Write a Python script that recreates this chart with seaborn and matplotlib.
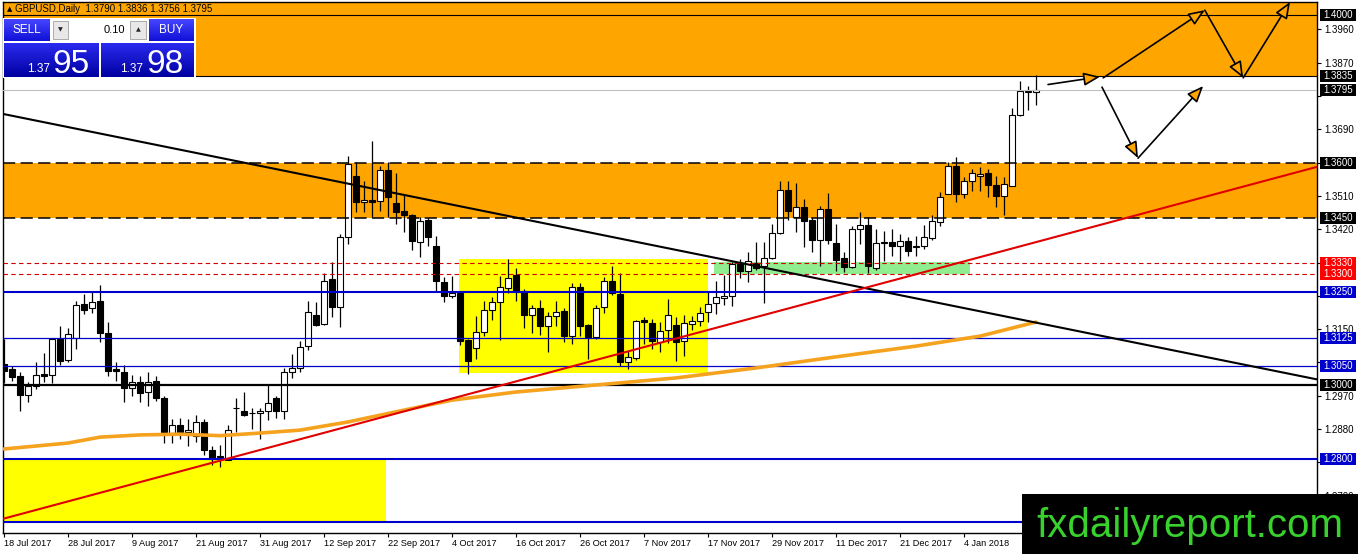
import numpy as np
import pandas as pd
import matplotlib
matplotlib.use("Agg")
import matplotlib.pyplot as plt
import matplotlib.transforms as mtrans
from matplotlib.patches import Rectangle, FancyArrowPatch
from matplotlib.colors import LinearSegmentedColormap
import seaborn as sns

# ---------------- data ----------------
header_symbol = "GBPUSD,Daily"
header_ohlc = "1.3790 1.3836 1.3756 1.3795"
sell_big, sell_small = "95", "1.37"
buy_big, buy_small = "98", "1.37"
lot_size = "0.10"

opens = [1.3057, 1.3041, 1.3022, 1.2971, 1.2995, 1.3030, 1.3025, 1.3122, 1.3066, 1.3125,
         1.3217, 1.3206, 1.3225, 1.3139, 1.3041, 1.3033, 1.2990, 1.3006, 1.2979, 1.3011,
         1.2963, 1.2868, 1.2890, 1.2871, 1.2860, 1.2898, 1.2822, 1.2808, 1.2797, 1.2936,
         1.2930, 1.2922, 1.2922, 1.2930, 1.2963, 1.2930, 1.3033, 1.3044, 1.3103, 1.3187,
         1.3163, 1.3285, 1.3209, 1.3399, 1.3564, 1.3494, 1.3499, 1.3496, 1.3580, 1.3491,
         1.3469, 1.3458, 1.3385, 1.3445, 1.3374, 1.3277, 1.3239, 1.3247, 1.3120, 1.3098,
         1.3141, 1.3201, 1.3223, 1.3261, 1.3296, 1.3252, 1.3187, 1.3206, 1.3158, 1.3185,
         1.3198, 1.3131, 1.3263, 1.3160, 1.3128, 1.3209, 1.3280, 1.3244, 1.3060, 1.3071,
         1.3174, 1.3166, 1.3114, 1.3147, 1.3160, 1.3117, 1.3163, 1.3171, 1.3196, 1.3220,
         1.3234, 1.3239, 1.3326, 1.3307, 1.3328, 1.3320, 1.3342, 1.3410, 1.3526, 1.3453,
         1.3480, 1.3445, 1.3391, 1.3475, 1.3382, 1.3342, 1.3317, 1.3420, 1.3431, 1.3315,
         1.3384, 1.3385, 1.3374, 1.3388, 1.3373, 1.3374, 1.3396, 1.3439, 1.3515, 1.3591,
         1.3515, 1.3550, 1.3564, 1.3572, 1.3540, 1.3510, 1.3537, 1.3729, 1.3792, 1.3790]
highs = [1.3122, 1.3049, 1.3033, 1.3006, 1.3060, 1.3085, 1.3125, 1.3158, 1.3152, 1.3225,
         1.3244, 1.3250, 1.3269, 1.3168, 1.3060, 1.3052, 1.3025, 1.3022, 1.3033, 1.3022,
         1.2968, 1.2906, 1.2911, 1.2906, 1.2917, 1.2906, 1.2835, 1.2838, 1.2890, 1.2963,
         1.2979, 1.2938, 1.2938, 1.3001, 1.2968, 1.3044, 1.3082, 1.3117, 1.3225, 1.3223,
         1.3301, 1.3331, 1.3407, 1.3618, 1.3602, 1.3550, 1.3659, 1.3591, 1.3602, 1.3572,
         1.3515, 1.3461, 1.3453, 1.3450, 1.3401, 1.3290, 1.3293, 1.3250, 1.3122, 1.3185,
         1.3225, 1.3236, 1.3293, 1.3339, 1.3315, 1.3258, 1.3215, 1.3228, 1.3196, 1.3225,
         1.3206, 1.3274, 1.3274, 1.3163, 1.3215, 1.3290, 1.3320, 1.3301, 1.3090, 1.3174,
         1.3182, 1.3177, 1.3168, 1.3231, 1.3182, 1.3187, 1.3185, 1.3209, 1.3252, 1.3280,
         1.3296, 1.3331, 1.3339, 1.3358, 1.3385, 1.3385, 1.3434, 1.3550, 1.3550, 1.3545,
         1.3502, 1.3453, 1.3483, 1.3518, 1.3434, 1.3358, 1.3429, 1.3466, 1.3453, 1.3420,
         1.3415, 1.3420, 1.3407, 1.3399, 1.3401, 1.3431, 1.3458, 1.3521, 1.3602, 1.3615,
         1.3561, 1.3583, 1.3588, 1.3583, 1.3564, 1.3561, 1.3748, 1.3821, 1.3808, 1.3836]
lows = [1.3003, 1.3009, 1.2930, 1.2952, 1.2987, 1.3006, 1.3003, 1.3052, 1.3060, 1.3095,
        1.3190, 1.3193, 1.3114, 1.3022, 1.3011, 1.2952, 1.2968, 1.2952, 1.2941, 1.2957,
        1.2843, 1.2843, 1.2854, 1.2835, 1.2846, 1.2811, 1.2784, 1.2776, 1.2795, 1.2871,
        1.2914, 1.2879, 1.2854, 1.2903, 1.2911, 1.2906, 1.3017, 1.3033, 1.3093, 1.3158,
        1.3162, 1.3182, 1.3155, 1.3380, 1.3466, 1.3466, 1.3453, 1.3469, 1.3453, 1.3434,
        1.3412, 1.3364, 1.3345, 1.3374, 1.3252, 1.3223, 1.3234, 1.3106, 1.3028, 1.3068,
        1.3131, 1.3174, 1.3120, 1.3247, 1.3225, 1.3152, 1.3139, 1.3133, 1.3087, 1.3158,
        1.3114, 1.3109, 1.3131, 1.3068, 1.3122, 1.3193, 1.3242, 1.3049, 1.3041, 1.3066,
        1.3109, 1.3095, 1.3087, 1.3112, 1.3063, 1.3076, 1.3147, 1.3158, 1.3168, 1.3190,
        1.3215, 1.3212, 1.3288, 1.3277, 1.3309, 1.3220, 1.3339, 1.3407, 1.3445, 1.3412,
        1.3372, 1.3358, 1.3320, 1.3380, 1.3307, 1.3304, 1.3315, 1.3380, 1.3301, 1.3309,
        1.3334, 1.3347, 1.3334, 1.3347, 1.3347, 1.3366, 1.3391, 1.3429, 1.3515, 1.3494,
        1.3504, 1.3523, 1.3523, 1.3507, 1.3480, 1.3458, 1.3536, 1.3726, 1.3743, 1.3756]
closes = [1.3038, 1.3020, 1.2971, 1.2995, 1.3025, 1.3022, 1.3122, 1.3063, 1.3136, 1.3215,
          1.3201, 1.3223, 1.3139, 1.3038, 1.3036, 1.2992, 1.3006, 1.2976, 1.3006, 1.2965,
          1.2871, 1.2892, 1.2871, 1.2876, 1.2898, 1.2822, 1.2800, 1.2803, 1.2876, 1.2938,
          1.2917, 1.2923, 1.2930, 1.2949, 1.2930, 1.3033, 1.3044, 1.3101, 1.3196, 1.3160,
          1.3280, 1.3209, 1.3399, 1.3596, 1.3494, 1.3499, 1.3494, 1.3580, 1.3507, 1.3466,
          1.3458, 1.3388, 1.3442, 1.3399, 1.3280, 1.3239, 1.3247, 1.3117, 1.3063, 1.3141,
          1.3201, 1.3223, 1.3263, 1.3288, 1.3252, 1.3187, 1.3206, 1.3158, 1.3185, 1.3196,
          1.3131, 1.3263, 1.3158, 1.3128, 1.3206, 1.3280, 1.3247, 1.3060, 1.3074, 1.3171,
          1.3168, 1.3117, 1.3144, 1.3187, 1.3114, 1.3166, 1.3171, 1.3193, 1.3217, 1.3236,
          1.3239, 1.3326, 1.3307, 1.3334, 1.3315, 1.3342, 1.3410, 1.3526, 1.3469, 1.3480,
          1.3442, 1.3391, 1.3475, 1.3391, 1.3336, 1.3317, 1.3420, 1.3431, 1.3320, 1.3382,
          1.3386, 1.3374, 1.3388, 1.3361, 1.3375, 1.3399, 1.3442, 1.3507, 1.3591, 1.3515,
          1.3550, 1.3572, 1.3569, 1.3540, 1.3510, 1.3542, 1.3729, 1.3794, 1.3794, 1.3795]

date_tick_bars = [0, 8, 16, 24, 32, 40, 48, 56, 64, 72, 80, 88, 96, 104, 112, 120]
date_labels = ["18 Jul 2017", "28 Jul 2017", "9 Aug 2017", "21 Aug 2017", "31 Aug 2017",
               "12 Sep 2017", "22 Sep 2017", "4 Oct 2017", "16 Oct 2017", "26 Oct 2017",
               "7 Nov 2017", "17 Nov 2017", "29 Nov 2017", "11 Dec 2017", "21 Dec 2017",
               "4 Jan 2018"]

price_ticks = [1.3960, 1.3870, 1.3780, 1.3690, 1.3600, 1.3510, 1.3420, 1.3330, 1.3240,
               1.3150, 1.3060, 1.2970, 1.2880, 1.2790, 1.2700]
# tick labels that sit under a level box in the reference are not printed
covered_ticks = [1.3780, 1.3600, 1.3330, 1.3240, 1.3060, 1.2790]

# moving average (read at selected bars)
ma_bars = [0, 8, 12, 17, 22, 27, 32, 37, 43, 50, 56, 64, 74, 84, 94, 104, 114, 122, 129]
ma_values = [1.2826, 1.2842, 1.2858, 1.2864, 1.2866, 1.2862, 1.2869, 1.2877, 1.2899, 1.2931,
             1.2958, 1.2980, 1.2999, 1.3018, 1.3045, 1.3075, 1.3104, 1.3131, 1.3169]

# trend lines: two anchor points (bar, price) each
black_trend = [(0, 1.3731), (163, 1.3019)]
red_trend = [(0, 1.2638), (163, 1.3582)]

# zones
top_zone_low = 1.3835
orange_zone = (1.3450, 1.3600)
yellow_box_1 = {"bars": (-0.5, 47.75), "prices": (1.2628, 1.2800)}
yellow_box_2 = {"bars": (56.9, 88.0), "prices": (1.3032, 1.3340)}
green_box = {"bars": (88.75, 120.8), "prices": (1.3300, 1.3330)}

# horizontal levels
level_prices = [1.4000, 1.3835, 1.3795, 1.3600, 1.3450, 1.3330, 1.3300,
                1.3250, 1.3125, 1.3050, 1.3000, 1.2800, 1.2628]
level_kinds = ["black", "black", "bid", "dash", "dash", "red", "red",
               "blue_thick", "blue", "blue", "black_thick", "blue_thick", "blue_thick"]
level_has_box = [True, True, True, True, True, True, True,
                 True, True, True, True, True, False]

# forecast arrows: (bar, price) start -> end
arrow_paths = [((130.5, 1.3811), (137.0, 1.3832)),
               ((137.4, 1.3829), (150.1, 1.4012)),
               ((150.1, 1.4012), (154.9, 1.3829)),
               ((154.9, 1.3829), (160.75, 1.4034)),
               ((137.25, 1.3804), (141.75, 1.3612)),
               ((141.75, 1.3612), (149.9, 1.3807))]

watermark = "fxdailyreport.com"

# ---------------- styles ----------------
ORANGE = "#FFA500"
YELLOW = "#FFFF00"
LGREEN = "#90EE90"
BLUE = "#0000CD"
line_styles = {
    "black": dict(color="black", lw=0.8, ls="-"),
    "black_thick": dict(color="black", lw=1.6, ls="-"),
    "bid": dict(color="#C0C0C0", lw=0.8, ls="-"),
    "dash": dict(color="black", lw=1.1, ls=(0, (8, 3.5))),
    "red": dict(color="#D00000", lw=0.8, ls=(0, (4, 3))),
    "blue": dict(color=BLUE, lw=0.9, ls="-"),
    "blue_thick": dict(color=BLUE, lw=1.5, ls="-"),
}
box_colors = {"black": "black", "black_thick": "black", "bid": "black", "dash": "black",
              "red": "#FF0000", "blue": BLUE, "blue_thick": BLUE}

sns.set_theme(style="white")
plt.rcParams["font.family"] = ["Liberation Sans", "DejaVu Sans"]

W, H = 1358, 554
L, R, T, B = 2.5, 1317, 1.5, 533
px_per_price = 3700.0
y_top = 1.3 + (384.6 - T) / px_per_price
y_bot = 1.3 + (384.6 - B) / px_per_price

fig = plt.figure(figsize=(W / 100, H / 100), dpi=100)
ax = fig.add_axes([L / W, 1 - B / H, (R - L) / W, (B - T) / H])
ax.set_facecolor("white")

# zones
ax.axhspan(top_zone_low, 1.5, color=ORANGE, lw=0, zorder=1)
ax.axhspan(*orange_zone, color=ORANGE, lw=0, zorder=1)
for box, col in [(yellow_box_1, YELLOW), (yellow_box_2, YELLOW), (green_box, LGREEN)]:
    b0, b1 = box["bars"]
    p0, p1 = box["prices"]
    ax.add_patch(Rectangle((b0, p0), b1 - b0, p1 - p0, facecolor=col, lw=0, zorder=1.5))

# candles
df = pd.DataFrame({"bar": np.arange(len(opens)), "o": opens, "h": highs, "l": lows, "c": closes})
df["body_lo"] = df[["o", "c"]].min(axis=1)
df["body_h"] = (df["o"] - df["c"]).abs().clip(lower=0.00004)
up = df["c"] >= df["o"]
ax.vlines(df["bar"], df["l"], df["h"], color="black", lw=0.9, zorder=3)
ax.bar(df.loc[up, "bar"], df.loc[up, "body_h"], bottom=df.loc[up, "body_lo"], width=0.64,
       facecolor="white", edgecolor="black", lw=0.8, zorder=4)
ax.bar(df.loc[~up, "bar"], df.loc[~up, "body_h"], bottom=df.loc[~up, "body_lo"], width=0.64,
       facecolor="black", edgecolor="black", lw=0.8, zorder=4)

# horizontal levels
for p, k in zip(level_prices, level_kinds):
    st = line_styles[k]
    ax.axhline(p, color=st["color"], lw=st["lw"], ls=st["ls"], zorder=5)

# moving average and trend lines
sns.lineplot(x=ma_bars, y=ma_values, ax=ax, color="#F5A21E", lw=2.6, zorder=6, legend=False)
ax.axline(black_trend[0], black_trend[1], color="black", lw=1.5, zorder=6)
ax.axline(red_trend[0], red_trend[1], color="#E00000", lw=1.5, zorder=6)

# arrows
for a, b in arrow_paths:
    ax.add_patch(FancyArrowPatch(a, b, arrowstyle="-|>,head_length=1.1,head_width=0.45",
                                 mutation_scale=9, facecolor=ORANGE, edgecolor="black",
                                 lw=1.2, zorder=7, shrinkA=0, shrinkB=0))

ax.set_xlim((L - 4) / 8, (R - 4) / 8)
ax.set_ylim(y_bot, y_top)

# axes styling
for s in ax.spines.values():
    s.set_color("black")
    s.set_linewidth(1.0)
ax.yaxis.tick_right()
ax.set_yticks(price_ticks)
ax.set_yticklabels(["" if v in covered_ticks else f"{v:.4f}" for v in price_ticks])
ax.tick_params(axis="y", which="major", right=True, left=False, length=3, width=0.8,
               direction="out", pad=2, labelsize=7, colors="black")
ax.set_xticks(date_tick_bars)
ax.set_xticklabels(date_labels)
ax.tick_params(axis="x", which="major", bottom=True, length=3, width=0.8,
               direction="out", pad=1.5, labelsize=6.6, colors="black")
for t in ax.get_xticklabels():
    t.set_ha("left")
ax.grid(False)

# right-side price boxes
blend = mtrans.blended_transform_factory(ax.transAxes, ax.transData)
bx0 = (1320 - L) / (R - L)
bw = 36 / (R - L)
bh = 12 / px_per_price
for p, k, has in zip(level_prices, level_kinds, level_has_box):
    if not has:
        continue
    ax.add_patch(Rectangle((bx0, p - bh / 2), bw, bh, transform=blend, facecolor=box_colors[k],
                           lw=0, clip_on=False, zorder=10))
    ax.text(bx0 + bw / 2, p, f"{p:.4f}", transform=blend, ha="center", va="center",
            color="white", fontsize=7, clip_on=False, zorder=11)

# ---------------- overlay (pixel coordinates) ----------------
ov = fig.add_axes([0, 0, 1, 1])
ov.patch.set_alpha(0)
ov.axis("off")

ov.text(7, 9, "\u25B2", fontsize=5, color="black", ha="left", va="center",
        family=["DejaVu Sans"])
ov.text(15, 9.5, f"{header_symbol}  {header_ohlc}", fontsize=7, color="black",
        ha="left", va="center")

grad = np.linspace(0, 1, 64).reshape(-1, 1)
cm_top = LinearSegmentedColormap.from_list("t", ["#4646ff", "#1010d8"])
cm_bot = LinearSegmentedColormap.from_list("b", ["#2a2af0", "#0000a0"])
ov.add_patch(Rectangle((3, 18), 193, 60, facecolor="white", lw=0, zorder=1))
for (x0, y0, x1, y1, cm) in [(4, 19, 50, 41, cm_top), (149, 19, 194, 41, cm_top),
                             (4, 43, 99, 77, cm_bot), (101, 43, 194, 77, cm_bot)]:
    ov.imshow(grad, extent=[x0, x1, y1, y0], cmap=cm, aspect="auto", zorder=2,
              interpolation="bilinear")
ov.add_patch(Rectangle((53, 21), 15, 18, facecolor="#E8E8E8", edgecolor="#A0A0A0", lw=0.6, zorder=2))
ov.add_patch(Rectangle((130, 21), 16, 18, facecolor="#E8E8E8", edgecolor="#A0A0A0", lw=0.6, zorder=2))
ov.text(60.5, 30, "\u25BC", fontsize=4.5, ha="center", va="center", family=["DejaVu Sans"], zorder=3)
ov.text(138, 30, "\u25B2", fontsize=4.5, ha="center", va="center", family=["DejaVu Sans"], zorder=3)
ov.text(125, 30, lot_size, fontsize=8, ha="right", va="center", color="black", zorder=3)
ov.text(27, 30, "SELL", fontsize=8.5, ha="center", va="center", color="white", zorder=3)
ov.text(171, 30, "BUY", fontsize=8.5, ha="center", va="center", color="white", zorder=3)
ov.text(27, 72.5, sell_small, fontsize=8.5, ha="left", va="baseline", color="white", zorder=3)
ov.text(52, 73, sell_big, fontsize=24, ha="left", va="baseline", color="white", zorder=3)
ov.text(120, 72.5, buy_small, fontsize=8.5, ha="left", va="baseline", color="white", zorder=3)
ov.text(146, 73, buy_big, fontsize=24, ha="left", va="baseline", color="white", zorder=3)

# watermark banner
ov.add_patch(Rectangle((1022, 494), 336, 60, facecolor="black", lw=0, zorder=5))
ov.text(1190, 537, watermark, fontsize=29, ha="center", va="baseline", color="#39D12E", zorder=6)

ov.set_xlim(0, W)
ov.set_ylim(H, 0)

fig.savefig("out.png", dpi=100)
